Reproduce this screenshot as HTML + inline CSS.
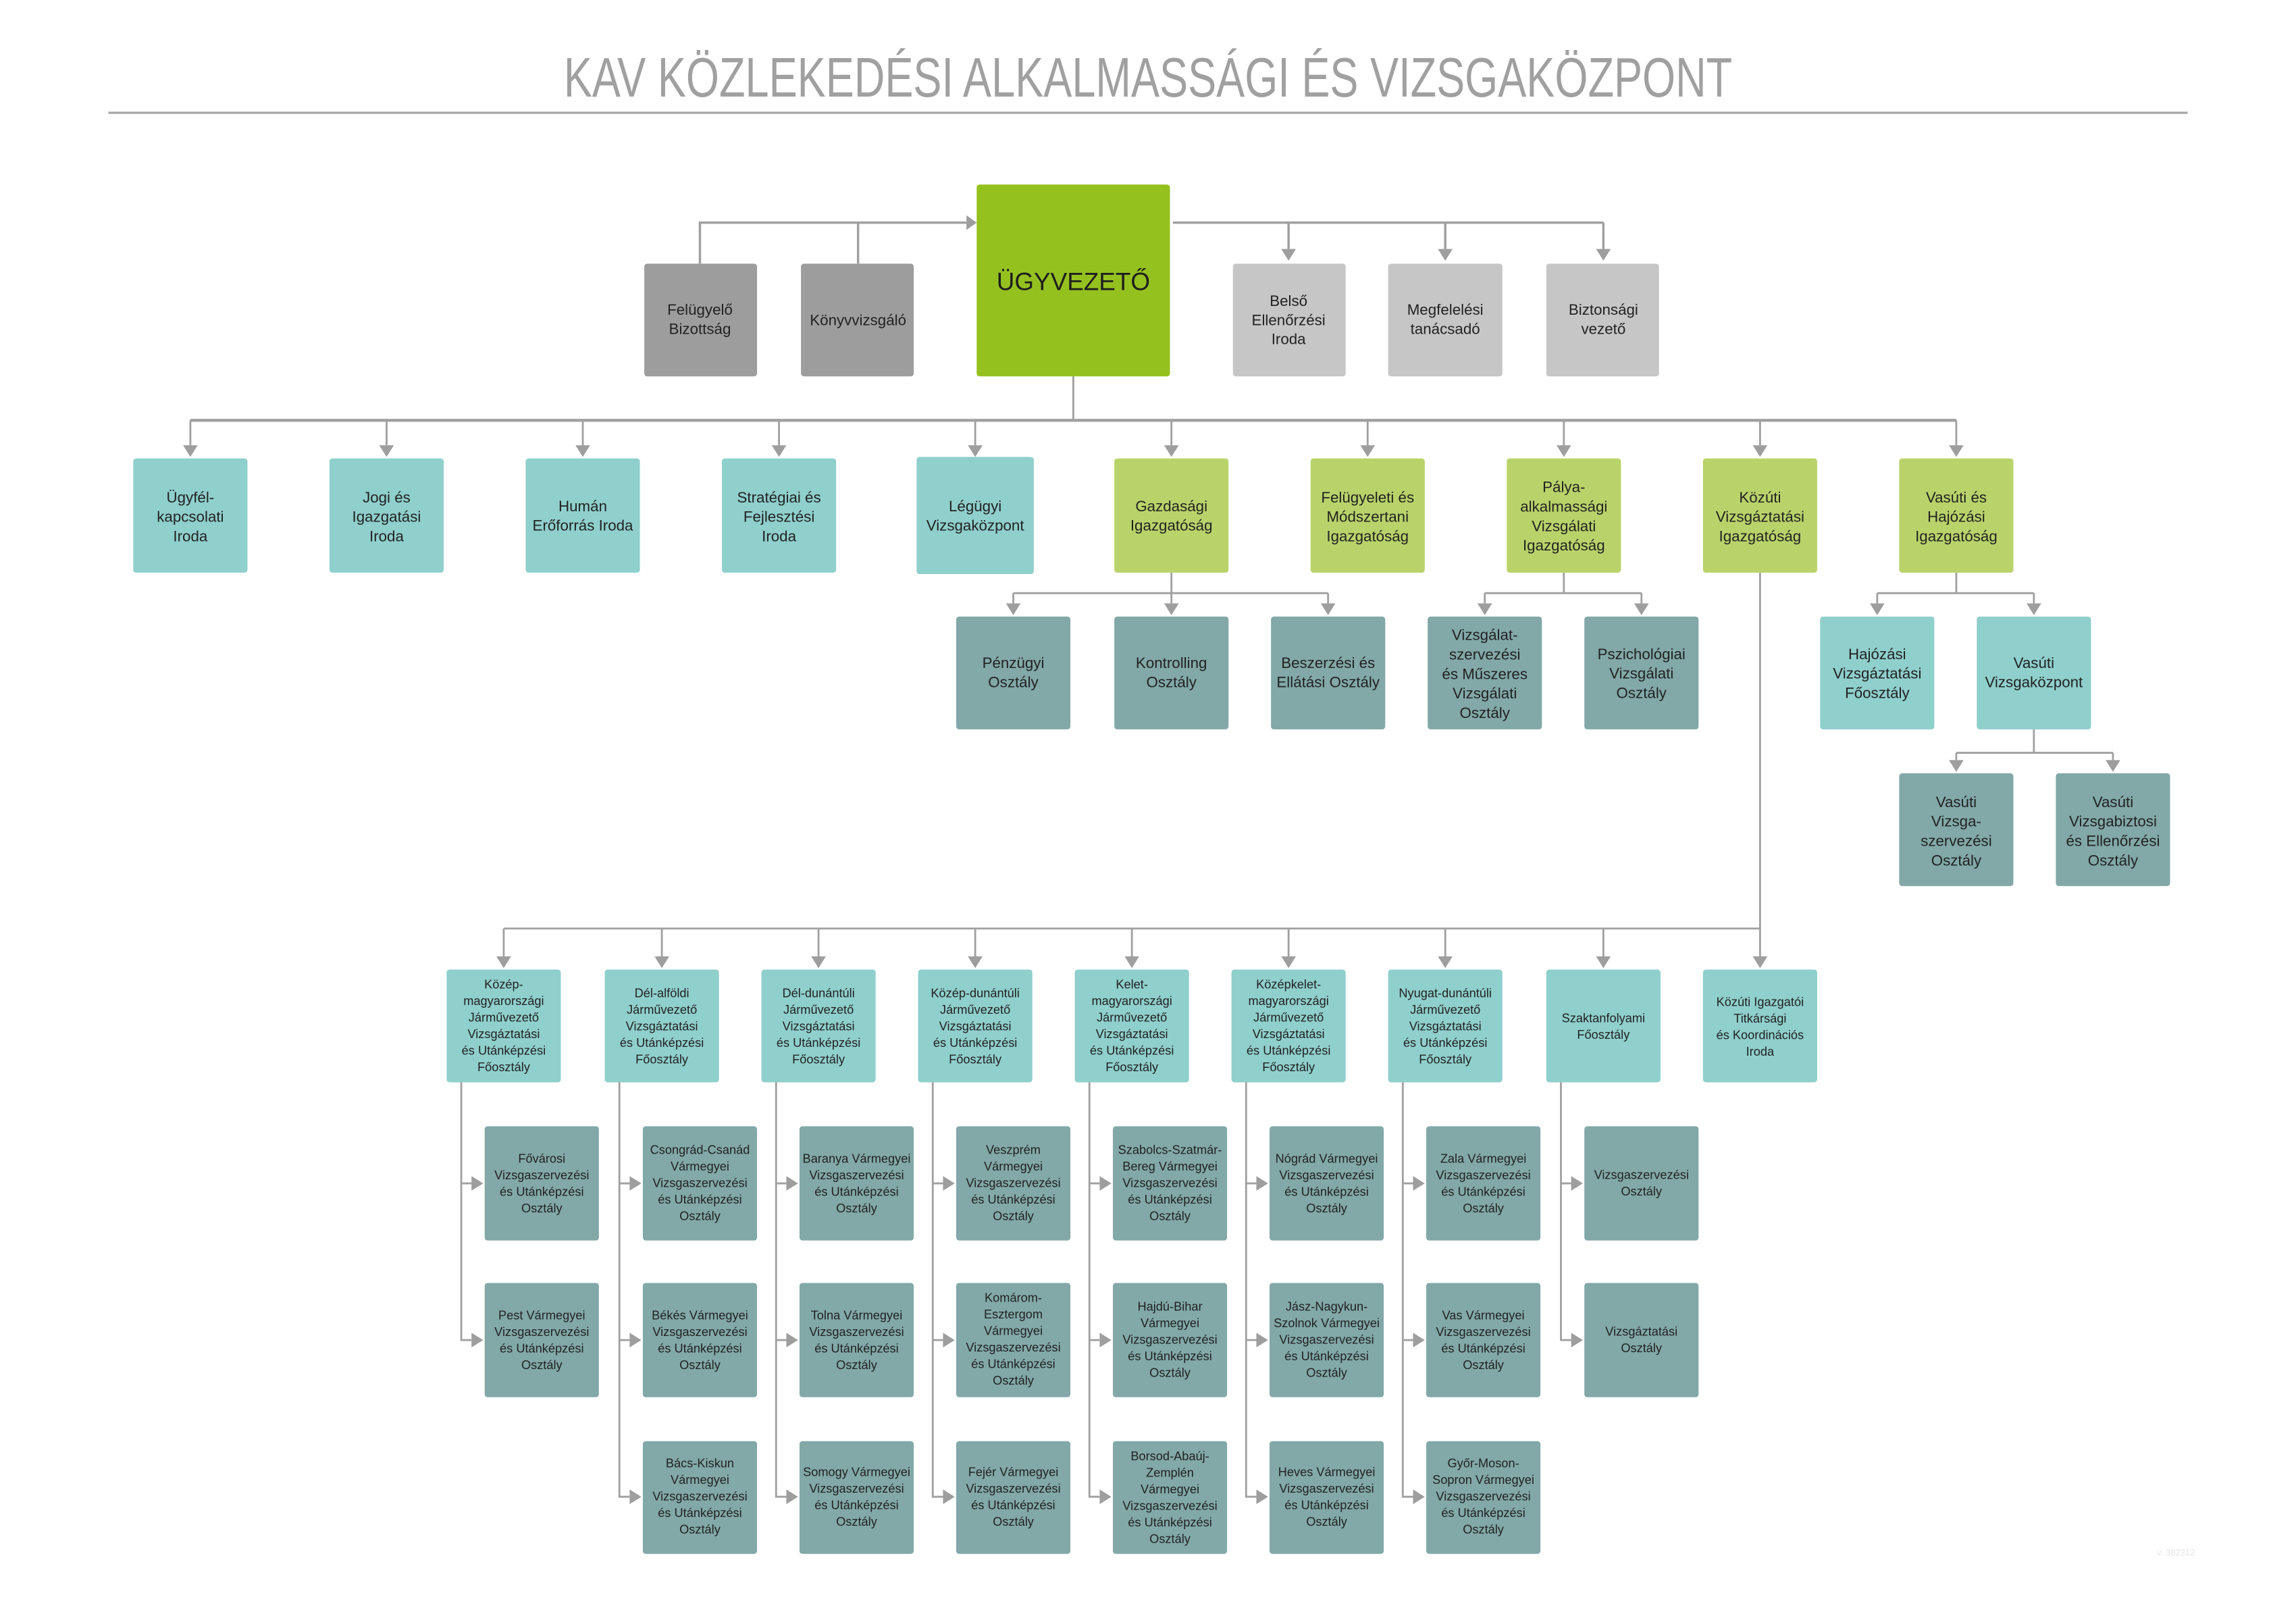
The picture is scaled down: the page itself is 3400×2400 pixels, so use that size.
<!DOCTYPE html>
<html><head><meta charset="utf-8">
<style>
html,body{margin:0;padding:0;background:#fff;}
svg{display:block;}
text{font-family:"Liberation Sans Narrow","Liberation Sans",sans-serif;font-stretch:condensed;fill:#222;text-anchor:middle;}
.a{font-size:10.3px;}
.b{font-size:8.4px;}
</style></head><body>
<svg width="3400" height="2400" viewBox="0 0 1568 1106.8" xmlns="http://www.w3.org/2000/svg">
<text x="784" y="66" style="font-size:38px;fill:#a0a0a0" textLength="798" lengthAdjust="spacingAndGlyphs">KAV KÖZLEKEDÉSI ALKALMASSÁGI ÉS VIZSGAKÖZPONT</text>
<line x1="74" y1="77" x2="1494" y2="77" stroke="#a6a6a6" stroke-width="1.5"/>

<g stroke="#a0a0a0" fill="none" stroke-width="1.3">
<path d="M478,180 V152 H660 M586,180 V152" stroke-width="1.6"/>
<path d="M801,152 H1095 M880,152 V170 M987,152 V170 M1095,152 V170" stroke-width="1.6"/>
<path d="M733,257 V287"/>
<path d="M130,287 H1336" stroke-width="2"/>
<path d="M130,287V304 M264,287V304 M398,287V304 M532,287V304 M666,287V304 M800,287V304 M934,287V304 M1068,287V304 M1202,287V304 M1336,287V304"/>
<path d="M800,391V405 M692,405H907 M692,405V412 M800,405V412 M907,405V412"/>
<path d="M1068,391V405 M1014,405H1121 M1014,405V412 M1121,405V412"/>
<path d="M1336,391V405 M1282,405H1389 M1282,405V412 M1389,405V412"/>
<path d="M1389,498V514 M1336,514H1443 M1336,514V519 M1443,514V519"/>
<path d="M1202,391V653 M344,634H1202" />
<path d="M344,634V653 M452,634V653 M559,634V653 M666,634V653 M773,634V653 M880,634V653 M987,634V653 M1095,634V653"/>
<path d="M315,739V915H322 M315,808H322"/>
<path d="M423,739V1022H430 M423,808H430 M423,915H430"/>
<path d="M530,739V1022H537 M530,808H537 M530,915H537"/>
<path d="M637,739V1022H644 M637,808H644 M637,915H644"/>
<path d="M744,739V1022H751 M744,808H751 M744,915H751"/>
<path d="M851,739V1022H858 M851,808H858 M851,915H858"/>
<path d="M958,739V1022H965 M958,808H965 M958,915H965"/>
<path d="M1066,739V915H1073 M1066,808H1073"/>
</g>
<g fill="#9e9e9e">
<path d="M660,147 L667,152 L660,157Z"/>
<path d="M875,170h10l-5,8z M982,170h10l-5,8z M1090,170h10l-5,8z"/>
<path d="M125,304h10l-5,8z M259,304h10l-5,8z M393,304h10l-5,8z M527,304h10l-5,8z M661,304h10l-5,8z M795,304h10l-5,8z M929,304h10l-5,8z M1063,304h10l-5,8z M1197,304h10l-5,8z M1331,304h10l-5,8z"/>
<path d="M687,412h10l-5,8z M795,412h10l-5,8z M902,412h10l-5,8z M1009,412h10l-5,8z M1116,412h10l-5,8z M1277,412h10l-5,8z M1384,412h10l-5,8z"/>
<path d="M1331,519h10l-5,8z M1438,519h10l-5,8z"/>
<path d="M339,653h10l-5,8z M447,653h10l-5,8z M554,653h10l-5,8z M661,653h10l-5,8z M768,653h10l-5,8z M875,653h10l-5,8z M982,653h10l-5,8z M1090,653h10l-5,8z M1197,653h10l-5,8z"/>
<path d="M322,803l8,5l-8,5z M322,910l8,5l-8,5z"/>
<path d="M430,803l8,5l-8,5z M430,910l8,5l-8,5z M430,1017l8,5l-8,5z"/>
<path d="M537,803l8,5l-8,5z M537,910l8,5l-8,5z M537,1017l8,5l-8,5z"/>
<path d="M644,803l8,5l-8,5z M644,910l8,5l-8,5z M644,1017l8,5l-8,5z"/>
<path d="M751,803l8,5l-8,5z M751,910l8,5l-8,5z M751,1017l8,5l-8,5z"/>
<path d="M858,803l8,5l-8,5z M858,910l8,5l-8,5z M858,1017l8,5l-8,5z"/>
<path d="M965,803l8,5l-8,5z M965,910l8,5l-8,5z M965,1017l8,5l-8,5z"/>
<path d="M1073,803l8,5l-8,5z M1073,910l8,5l-8,5z"/>
</g>

<!-- Row 0 -->
<rect x="440" y="180" width="77" height="77" rx="2" fill="#9d9d9d"/>
<text class="a" x="478" y="215"><tspan x="478">Felügyelő</tspan><tspan x="478" dy="13">Bizottság</tspan></text>
<rect x="547" y="180" width="77" height="77" rx="2" fill="#9d9d9d"/>
<text class="a" x="586" y="222">Könyvvizsgáló</text>
<rect x="667" y="126" width="132" height="131" rx="2" fill="#95c11f"/>
<text x="733" y="198" style="font-size:17px;fill:#1e1e1e">ÜGYVEZETŐ</text>
<rect x="842" y="180" width="77" height="77" rx="2" fill="#c6c6c6"/>
<text class="a" x="880" y="209"><tspan x="880">Belső</tspan><tspan x="880" dy="13">Ellenőrzési</tspan><tspan x="880" dy="13">Iroda</tspan></text>
<rect x="948" y="180" width="78" height="77" rx="2" fill="#c6c6c6"/>
<text class="a" x="987" y="215"><tspan x="987">Megfelelési</tspan><tspan x="987" dy="13">tanácsadó</tspan></text>
<rect x="1056" y="180" width="77" height="77" rx="2" fill="#c6c6c6"/>
<text class="a" x="1095" y="215"><tspan x="1095">Biztonsági</tspan><tspan x="1095" dy="13">vezető</tspan></text>

<!-- Row 1 -->
<g>
<rect x="91" y="313" width="78" height="78" rx="2" fill="#8fcfcc"/>
<rect x="225" y="313" width="78" height="78" rx="2" fill="#8fcfcc"/>
<rect x="359" y="313" width="78" height="78" rx="2" fill="#8fcfcc"/>
<rect x="493" y="313" width="78" height="78" rx="2" fill="#8fcfcc"/>
<rect x="626" y="312" width="80" height="80" rx="2" fill="#8fcfcc"/>
<rect x="761" y="313" width="78" height="78" rx="2" fill="#b9d36a"/>
<rect x="895" y="313" width="78" height="78" rx="2" fill="#b9d36a"/>
<rect x="1029" y="313" width="78" height="78" rx="2" fill="#b9d36a"/>
<rect x="1163" y="313" width="78" height="78" rx="2" fill="#b9d36a"/>
<rect x="1297" y="313" width="78" height="78" rx="2" fill="#b9d36a"/>
</g>
<text class="a"><tspan x="130" y="343">Ügyfél-</tspan><tspan x="130" dy="13.3">kapcsolati</tspan><tspan x="130" dy="13.3">Iroda</tspan></text>
<text class="a"><tspan x="264" y="343">Jogi és</tspan><tspan x="264" dy="13.3">Igazgatási</tspan><tspan x="264" dy="13.3">Iroda</tspan></text>
<text class="a"><tspan x="398" y="349">Humán</tspan><tspan x="398" dy="13.3">Erőforrás Iroda</tspan></text>
<text class="a"><tspan x="532" y="343">Stratégiai és</tspan><tspan x="532" dy="13.3">Fejlesztési</tspan><tspan x="532" dy="13.3">Iroda</tspan></text>
<text class="a"><tspan x="666" y="349">Légügyi</tspan><tspan x="666" dy="13.3">Vizsgaközpont</tspan></text>
<text class="a"><tspan x="800" y="349">Gazdasági</tspan><tspan x="800" dy="13.3">Igazgatóság</tspan></text>
<text class="a"><tspan x="934" y="343">Felügyeleti és</tspan><tspan x="934" dy="13.3">Módszertani</tspan><tspan x="934" dy="13.3">Igazgatóság</tspan></text>
<text class="a"><tspan x="1068" y="336">Pálya-</tspan><tspan x="1068" dy="13.3">alkalmassági</tspan><tspan x="1068" dy="13.3">Vizsgálati</tspan><tspan x="1068" dy="13.3">Igazgatóság</tspan></text>
<text class="a"><tspan x="1202" y="343">Közúti</tspan><tspan x="1202" dy="13.3">Vizsgáztatási</tspan><tspan x="1202" dy="13.3">Igazgatóság</tspan></text>
<text class="a"><tspan x="1336" y="343">Vasúti és</tspan><tspan x="1336" dy="13.3">Hajózási</tspan><tspan x="1336" dy="13.3">Igazgatóság</tspan></text>

<!-- Row 2 -->
<rect x="653" y="421" width="78" height="77" rx="2" fill="#82a8a8"/>
<rect x="761" y="421" width="78" height="77" rx="2" fill="#82a8a8"/>
<rect x="868" y="421" width="78" height="77" rx="2" fill="#82a8a8"/>
<rect x="975" y="421" width="78" height="77" rx="2" fill="#82a8a8"/>
<rect x="1082" y="421" width="78" height="77" rx="2" fill="#82a8a8"/>
<rect x="1243" y="421" width="78" height="77" rx="2" fill="#8fcfcc"/>
<rect x="1350" y="421" width="78" height="77" rx="2" fill="#8fcfcc"/>
<text class="a"><tspan x="692" y="456">Pénzügyi</tspan><tspan x="692" dy="13.3">Osztály</tspan></text>
<text class="a"><tspan x="800" y="456">Kontrolling</tspan><tspan x="800" dy="13.3">Osztály</tspan></text>
<text class="a"><tspan x="907" y="456">Beszerzési és</tspan><tspan x="907" dy="13.3">Ellátási Osztály</tspan></text>
<text class="a"><tspan x="1014" y="437">Vizsgálat-</tspan><tspan x="1014" dy="13.3">szervezési</tspan><tspan x="1014" dy="13.3">és Műszeres</tspan><tspan x="1014" dy="13.3">Vizsgálati</tspan><tspan x="1014" dy="13.3">Osztály</tspan></text>
<text class="a"><tspan x="1121" y="450">Pszichológiai</tspan><tspan x="1121" dy="13.3">Vizsgálati</tspan><tspan x="1121" dy="13.3">Osztály</tspan></text>
<text class="a"><tspan x="1282" y="450">Hajózási</tspan><tspan x="1282" dy="13.3">Vizsgáztatási</tspan><tspan x="1282" dy="13.3">Főosztály</tspan></text>
<text class="a"><tspan x="1389" y="456">Vasúti</tspan><tspan x="1389" dy="13.3">Vizsgaközpont</tspan></text>

<!-- Row 3 -->
<rect x="1297" y="528" width="78" height="77" rx="2" fill="#82a8a8"/>
<rect x="1404" y="528" width="78" height="77" rx="2" fill="#82a8a8"/>
<text class="a"><tspan x="1336" y="551">Vasúti</tspan><tspan x="1336" dy="13.3">Vizsga-</tspan><tspan x="1336" dy="13.3">szervezési</tspan><tspan x="1336" dy="13.3">Osztály</tspan></text>
<text class="a"><tspan x="1443" y="551">Vasúti</tspan><tspan x="1443" dy="13.3">Vizsgabiztosi</tspan><tspan x="1443" dy="13.3">és Ellenőrzési</tspan><tspan x="1443" dy="13.3">Osztály</tspan></text>

<!-- Row 4 -->
<g fill="#8fcfcc">
<rect x="305" y="662" width="78" height="77" rx="2"/>
<rect x="413" y="662" width="78" height="77" rx="2"/>
<rect x="520" y="662" width="78" height="77" rx="2"/>
<rect x="627" y="662" width="78" height="77" rx="2"/>
<rect x="734" y="662" width="78" height="77" rx="2"/>
<rect x="841" y="662" width="78" height="77" rx="2"/>
<rect x="948" y="662" width="78" height="77" rx="2"/>
<rect x="1056" y="662" width="78" height="77" rx="2"/>
<rect x="1163" y="662" width="78" height="77" rx="2"/>
</g>
<text class="b"><tspan x="344" y="675">Közép-</tspan><tspan x="344" dy="11.3">magyarországi</tspan><tspan x="344" dy="11.3">Járművezető</tspan><tspan x="344" dy="11.3">Vizsgáztatási</tspan><tspan x="344" dy="11.3">és Utánképzési</tspan><tspan x="344" dy="11.3">Főosztály</tspan></text>
<text class="b"><tspan x="452" y="681">Dél-alföldi</tspan><tspan x="452" dy="11.3">Járművezető</tspan><tspan x="452" dy="11.3">Vizsgáztatási</tspan><tspan x="452" dy="11.3">és Utánképzési</tspan><tspan x="452" dy="11.3">Főosztály</tspan></text>
<text class="b"><tspan x="559" y="681">Dél-dunántúli</tspan><tspan x="559" dy="11.3">Járművezető</tspan><tspan x="559" dy="11.3">Vizsgáztatási</tspan><tspan x="559" dy="11.3">és Utánképzési</tspan><tspan x="559" dy="11.3">Főosztály</tspan></text>
<text class="b"><tspan x="666" y="681">Közép-dunántúli</tspan><tspan x="666" dy="11.3">Járművezető</tspan><tspan x="666" dy="11.3">Vizsgáztatási</tspan><tspan x="666" dy="11.3">és Utánképzési</tspan><tspan x="666" dy="11.3">Főosztály</tspan></text>
<text class="b"><tspan x="773" y="675">Kelet-</tspan><tspan x="773" dy="11.3">magyarországi</tspan><tspan x="773" dy="11.3">Járművezető</tspan><tspan x="773" dy="11.3">Vizsgáztatási</tspan><tspan x="773" dy="11.3">és Utánképzési</tspan><tspan x="773" dy="11.3">Főosztály</tspan></text>
<text class="b"><tspan x="880" y="675">Középkelet-</tspan><tspan x="880" dy="11.3">magyarországi</tspan><tspan x="880" dy="11.3">Járművezető</tspan><tspan x="880" dy="11.3">Vizsgáztatási</tspan><tspan x="880" dy="11.3">és Utánképzési</tspan><tspan x="880" dy="11.3">Főosztály</tspan></text>
<text class="b"><tspan x="987" y="681">Nyugat-dunántúli</tspan><tspan x="987" dy="11.3">Járművezető</tspan><tspan x="987" dy="11.3">Vizsgáztatási</tspan><tspan x="987" dy="11.3">és Utánképzési</tspan><tspan x="987" dy="11.3">Főosztály</tspan></text>
<text class="b"><tspan x="1095" y="698">Szaktanfolyami</tspan><tspan x="1095" dy="11.3">Főosztály</tspan></text>
<text class="b"><tspan x="1202" y="687">Közúti Igazgatói</tspan><tspan x="1202" dy="11.3">Titkársági</tspan><tspan x="1202" dy="11.3">és Koordinációs</tspan><tspan x="1202" dy="11.3">Iroda</tspan></text>

<!-- Sub boxes -->
<g fill="#82a8a8">
<rect x="331" y="769" width="78" height="78" rx="2"/><rect x="331" y="876" width="78" height="78" rx="2"/>
<rect x="439" y="769" width="78" height="78" rx="2"/><rect x="439" y="876" width="78" height="78" rx="2"/><rect x="439" y="984" width="78" height="77" rx="2"/>
<rect x="546" y="769" width="78" height="78" rx="2"/><rect x="546" y="876" width="78" height="78" rx="2"/><rect x="546" y="984" width="78" height="77" rx="2"/>
<rect x="653" y="769" width="78" height="78" rx="2"/><rect x="653" y="876" width="78" height="78" rx="2"/><rect x="653" y="984" width="78" height="77" rx="2"/>
<rect x="760" y="769" width="78" height="78" rx="2"/><rect x="760" y="876" width="78" height="78" rx="2"/><rect x="760" y="984" width="78" height="77" rx="2"/>
<rect x="867" y="769" width="78" height="78" rx="2"/><rect x="867" y="876" width="78" height="78" rx="2"/><rect x="867" y="984" width="78" height="77" rx="2"/>
<rect x="974" y="769" width="78" height="78" rx="2"/><rect x="974" y="876" width="78" height="78" rx="2"/><rect x="974" y="984" width="78" height="77" rx="2"/>
<rect x="1082" y="769" width="78" height="78" rx="2"/><rect x="1082" y="876" width="78" height="78" rx="2"/>
</g>
<text class="b"><tspan x="370" y="794">Fővárosi</tspan><tspan x="370" dy="11.3">Vizsgaszervezési</tspan><tspan x="370" dy="11.3">és Utánképzési</tspan><tspan x="370" dy="11.3">Osztály</tspan></text>
<text class="b"><tspan x="370" y="901">Pest Vármegyei</tspan><tspan x="370" dy="11.3">Vizsgaszervezési</tspan><tspan x="370" dy="11.3">és Utánképzési</tspan><tspan x="370" dy="11.3">Osztály</tspan></text>

<text class="b"><tspan x="478" y="788">Csongrád-Csanád</tspan><tspan x="478" dy="11.3">Vármegyei</tspan><tspan x="478" dy="11.3">Vizsgaszervezési</tspan><tspan x="478" dy="11.3">és Utánképzési</tspan><tspan x="478" dy="11.3">Osztály</tspan></text>
<text class="b"><tspan x="478" y="901">Békés Vármegyei</tspan><tspan x="478" dy="11.3">Vizsgaszervezési</tspan><tspan x="478" dy="11.3">és Utánképzési</tspan><tspan x="478" dy="11.3">Osztály</tspan></text>
<text class="b"><tspan x="478" y="1002">Bács-Kiskun</tspan><tspan x="478" dy="11.3">Vármegyei</tspan><tspan x="478" dy="11.3">Vizsgaszervezési</tspan><tspan x="478" dy="11.3">és Utánképzési</tspan><tspan x="478" dy="11.3">Osztály</tspan></text>

<text class="b"><tspan x="585" y="794">Baranya Vármegyei</tspan><tspan x="585" dy="11.3">Vizsgaszervezési</tspan><tspan x="585" dy="11.3">és Utánképzési</tspan><tspan x="585" dy="11.3">Osztály</tspan></text>
<text class="b"><tspan x="585" y="901">Tolna Vármegyei</tspan><tspan x="585" dy="11.3">Vizsgaszervezési</tspan><tspan x="585" dy="11.3">és Utánképzési</tspan><tspan x="585" dy="11.3">Osztály</tspan></text>
<text class="b"><tspan x="585" y="1008">Somogy Vármegyei</tspan><tspan x="585" dy="11.3">Vizsgaszervezési</tspan><tspan x="585" dy="11.3">és Utánképzési</tspan><tspan x="585" dy="11.3">Osztály</tspan></text>

<text class="b"><tspan x="692" y="788">Veszprém</tspan><tspan x="692" dy="11.3">Vármegyei</tspan><tspan x="692" dy="11.3">Vizsgaszervezési</tspan><tspan x="692" dy="11.3">és Utánképzési</tspan><tspan x="692" dy="11.3">Osztály</tspan></text>
<text class="b"><tspan x="692" y="889">Komárom-</tspan><tspan x="692" dy="11.3">Esztergom</tspan><tspan x="692" dy="11.3">Vármegyei</tspan><tspan x="692" dy="11.3">Vizsgaszervezési</tspan><tspan x="692" dy="11.3">és Utánképzési</tspan><tspan x="692" dy="11.3">Osztály</tspan></text>
<text class="b"><tspan x="692" y="1008">Fejér Vármegyei</tspan><tspan x="692" dy="11.3">Vizsgaszervezési</tspan><tspan x="692" dy="11.3">és Utánképzési</tspan><tspan x="692" dy="11.3">Osztály</tspan></text>

<text class="b"><tspan x="799" y="788">Szabolcs-Szatmár-</tspan><tspan x="799" dy="11.3">Bereg Vármegyei</tspan><tspan x="799" dy="11.3">Vizsgaszervezési</tspan><tspan x="799" dy="11.3">és Utánképzési</tspan><tspan x="799" dy="11.3">Osztály</tspan></text>
<text class="b"><tspan x="799" y="895">Hajdú-Bihar</tspan><tspan x="799" dy="11.3">Vármegyei</tspan><tspan x="799" dy="11.3">Vizsgaszervezési</tspan><tspan x="799" dy="11.3">és Utánképzési</tspan><tspan x="799" dy="11.3">Osztály</tspan></text>
<text class="b"><tspan x="799" y="997">Borsod-Abaúj-</tspan><tspan x="799" dy="11.3">Zemplén</tspan><tspan x="799" dy="11.3">Vármegyei</tspan><tspan x="799" dy="11.3">Vizsgaszervezési</tspan><tspan x="799" dy="11.3">és Utánképzési</tspan><tspan x="799" dy="11.3">Osztály</tspan></text>

<text class="b"><tspan x="906" y="794">Nógrád Vármegyei</tspan><tspan x="906" dy="11.3">Vizsgaszervezési</tspan><tspan x="906" dy="11.3">és Utánképzési</tspan><tspan x="906" dy="11.3">Osztály</tspan></text>
<text class="b"><tspan x="906" y="895">Jász-Nagykun-</tspan><tspan x="906" dy="11.3">Szolnok Vármegyei</tspan><tspan x="906" dy="11.3">Vizsgaszervezési</tspan><tspan x="906" dy="11.3">és Utánképzési</tspan><tspan x="906" dy="11.3">Osztály</tspan></text>
<text class="b"><tspan x="906" y="1008">Heves Vármegyei</tspan><tspan x="906" dy="11.3">Vizsgaszervezési</tspan><tspan x="906" dy="11.3">és Utánképzési</tspan><tspan x="906" dy="11.3">Osztály</tspan></text>

<text class="b"><tspan x="1013" y="794">Zala Vármegyei</tspan><tspan x="1013" dy="11.3">Vizsgaszervezési</tspan><tspan x="1013" dy="11.3">és Utánképzési</tspan><tspan x="1013" dy="11.3">Osztály</tspan></text>
<text class="b"><tspan x="1013" y="901">Vas Vármegyei</tspan><tspan x="1013" dy="11.3">Vizsgaszervezési</tspan><tspan x="1013" dy="11.3">és Utánképzési</tspan><tspan x="1013" dy="11.3">Osztály</tspan></text>
<text class="b"><tspan x="1013" y="1002">Győr-Moson-</tspan><tspan x="1013" dy="11.3">Sopron Vármegyei</tspan><tspan x="1013" dy="11.3">Vizsgaszervezési</tspan><tspan x="1013" dy="11.3">és Utánképzési</tspan><tspan x="1013" dy="11.3">Osztály</tspan></text>

<text class="b"><tspan x="1121" y="805">Vizsgaszervezési</tspan><tspan x="1121" dy="11.3">Osztály</tspan></text>
<text class="b"><tspan x="1121" y="912">Vizsgáztatási</tspan><tspan x="1121" dy="11.3">Osztály</tspan></text>

<text x="1486" y="1062" style="font-size:6px;fill:#e4e4e4">v. 382312</text>
</svg>
</body></html>
